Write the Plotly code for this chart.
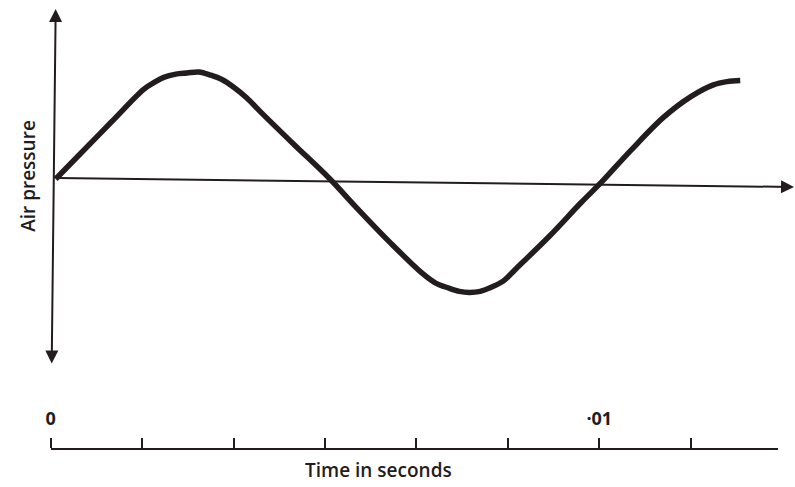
import plotly.graph_objects as go

# Wave (time in seconds, air pressure in arbitrary units)
time_s = [0.0, 0.00040, 0.00101, 0.00161, 0.00179, 0.00197, 0.00219, 0.00239,
          0.00261, 0.00283, 0.00303, 0.00324, 0.00348, 0.00373, 0.00433,
          0.00500, 0.00547, 0.00609, 0.00668, 0.00692, 0.00717, 0.00736,
          0.00754, 0.00774, 0.00795, 0.00817, 0.00837, 0.00899, 0.00958,
          0.00995, 0.01049, 0.01109, 0.01158, 0.01199, 0.01224, 0.01248]
pressure = [0.0, 0.21, 0.53, 0.84, 0.90, 0.95, 0.98, 0.99,
            1.00, 0.97, 0.93, 0.86, 0.76, 0.63, 0.33,
            0.0, -0.26, -0.59, -0.88, -0.97, -1.02, -1.05,
            -1.06, -1.05, -1.01, -0.95, -0.85, -0.54, -0.22,
            -0.03, 0.27, 0.58, 0.77, 0.88, 0.91, 0.92]

# Time scale ticks
tick_vals = [0.0, 0.01 / 6, 0.02 / 6, 0.03 / 6, 0.04 / 6, 0.05 / 6, 0.01, 0.07 / 6]
tick_text = ["0", "", "", "", "", "", "·01", ""]

INK = "#231c1e"
FONT = "Open Sans"

W, H = 795, 487
PX_PER_S = 55200.0

fig = go.Figure()
fig.add_trace(go.Scatter(
    x=time_s, y=pressure, mode="lines",
    line=dict(color=INK, width=5.5, shape="spline", smoothing=1.0),
    hoverinfo="skip", showlegend=False,
))
# invisible trace for the time-scale axis
fig.add_trace(go.Scatter(x=[tick_vals[0]], y=[0], xaxis="x2", yaxis="y2",
                         mode="markers", marker=dict(opacity=0),
                         hoverinfo="skip", showlegend=False))

x0 = 51  # pixel of the pressure axis
x_range = [-x0 / PX_PER_S, (W - x0) / PX_PER_S]
y_base, px_per_unit = 179, 107.0
y_range = [(y_base - H) / px_per_unit, y_base / px_per_unit]

# time axis geometry
tx0, tx1, ty = 46, 778, 450

annotations = [
    # pressure axis (double arrow)
    dict(x=(51 - x0) / PX_PER_S, y=(y_base - 9) / px_per_unit,
         ax=(47 - x0) / PX_PER_S, ay=(y_base - 365) / px_per_unit,
         xref="x", yref="y", axref="x", ayref="y", text="", showarrow=True,
         arrowhead=2, arrowside="end+start", arrowsize=1.3, arrowwidth=2,
         arrowcolor=INK, standoff=0, startstandoff=0, startarrowhead=2,
         startarrowsize=1.3),
    # time (zero pressure) axis
    dict(x=(W - 1 - x0) / PX_PER_S, y=(y_base - 187) / px_per_unit,
         ax=0, ay=(y_base - 178) / px_per_unit,
         xref="x", yref="y", axref="x", ayref="y", text="", showarrow=True,
         arrowhead=2, arrowsize=1.3, arrowwidth=2, arrowcolor=INK, standoff=0),
    dict(text="Air pressure", x=23 / W, y=1 - 176 / H, xref="paper", yref="paper",
         xanchor="center", yanchor="middle",
         showarrow=False, textangle=-90,
         font=dict(family=FONT, size=19, color=INK, weight=600)),
    dict(text="Time in seconds", x=376 / W, y=1 - 470 / H, xref="paper", yref="paper",
         xanchor="center", yanchor="middle",
         showarrow=False, font=dict(family=FONT, size=19, color=INK, weight=600)),
]

fig.update_layout(
    width=W, height=H,
    margin=dict(l=0, r=0, t=0, b=0),
    paper_bgcolor="white", plot_bgcolor="rgba(0,0,0,0)",
    showlegend=False,
    xaxis=dict(range=x_range, visible=False, domain=[0, 1]),
    yaxis=dict(range=y_range, visible=False, domain=[0, 1]),
    xaxis2=dict(range=[0, (tx1 - tx0) / PX_PER_S], domain=[tx0 / W, tx1 / W],
                anchor="y2", side="top", showline=True, linecolor=INK, linewidth=2,
                ticks="outside", ticklen=10, tickwidth=2, tickcolor=INK,
                tickvals=tick_vals, ticktext=tick_text, showgrid=False,
                zeroline=False, ticklabelstandoff=6,
                tickfont=dict(family=FONT, size=18, color=INK, weight=700)),
    yaxis2=dict(domain=[0, 1 - ty / H], range=[0, 1], visible=False),
    annotations=annotations,
)

fig.write_html(
    "out.html",
    config={"displayModeBar": False},
    post_script="document.body.style.margin='0';document.body.style.overflow='hidden';",
)
